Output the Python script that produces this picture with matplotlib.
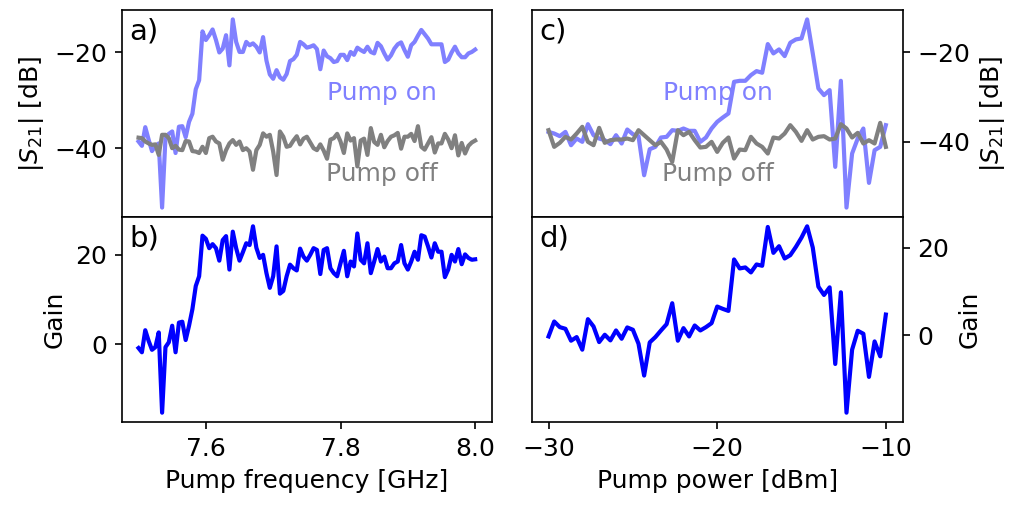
import numpy as np
import matplotlib
matplotlib.use("Agg")
import matplotlib.pyplot as plt

# Frequency sweep (GHz) and power sweep (dBm)
freq = np.linspace(7.5, 8.0, 101)
power = np.linspace(-30.0, -10.0, 61)

# |S21| vs pump frequency, pump on / off (dB)
s21_on_f = [
    -38.6, -39.5, -35.6, -38.2, -40.6, -39.5, -39.0, -52.4, -37.9, -37.0,
    -36.5, -41.0, -35.5, -35.4, -37.7, -34.5, -32.8, -27.7, -25.8, -15.6,
    -17.4, -16.4, -15.2, -17.4, -20.0, -19.2, -16.4, -22.7, -13.1, -17.8,
    -19.9, -19.9, -17.8, -18.5, -18.1, -18.8, -20.0, -16.8, -21.7, -24.6,
    -25.5, -23.7, -25.2, -25.7, -24.5, -21.8, -21.4, -20.5, -17.8, -18.3,
    -19.0, -18.8, -18.5, -19.3, -23.5, -19.6, -20.8, -21.2, -22.0, -21.8,
    -20.5, -20.5, -21.6, -19.9, -20.5, -19.0, -19.5, -19.9, -18.8, -19.9,
    -20.2, -18.0, -18.7, -20.2, -21.5, -20.6, -19.2, -18.3, -17.9, -19.5,
    -20.9, -18.5, -17.8, -16.5, -15.3, -16.2, -17.1, -18.3, -18.3, -18.3,
    -18.3, -22.0, -21.5, -20.0, -18.8, -20.2, -21.0, -21.0, -20.2, -19.9,
    -19.4,
]
s21_off_f = [
    -37.8, -37.9, -38.6, -39.0, -39.3, -39.2, -41.4, -37.2, -37.2, -37.9,
    -40.0, -39.5, -40.3, -40.4, -38.5, -38.6, -40.6, -40.7, -41.0, -39.7,
    -41.0, -37.9, -37.6, -38.6, -39.0, -42.4, -40.4, -39.0, -38.3, -39.3,
    -38.6, -40.4, -40.0, -40.7, -44.5, -40.4, -39.3, -36.9, -37.6, -37.2,
    -40.7, -45.6, -36.5, -37.6, -39.7, -39.5, -38.4, -37.5, -39.2, -38.0,
    -37.6, -38.8, -40.0, -40.4, -39.2, -40.5, -42.2, -38.2, -37.9, -37.0,
    -38.6, -41.0, -36.9, -38.4, -37.9, -43.8, -38.4, -38.0, -41.4, -35.8,
    -38.7, -39.3, -37.2, -39.8, -38.5, -37.6, -37.3, -36.8, -40.1, -37.6,
    -37.6, -37.0, -38.5, -35.4, -39.7, -40.3, -39.0, -37.7, -40.9, -39.0,
    -39.0, -37.0, -38.2, -40.0, -37.3, -41.5, -38.9, -41.1, -39.5, -38.8,
    -38.4,
]
gain_f = [
    -0.9, -1.85, 3.1, 0.7, -1.3, -0.7, 2.6, -15.4, -0.7, 0.4,
    4.1, -1.85, 4.8, 5.0, 0.9, 4.1, 7.8, 13.0, 15.2, 24.3,
    23.6, 21.5, 22.4, 21.5, 18.7, 23.3, 24.2, 16.7, 25.2, 21.5,
    18.7, 20.6, 22.6, 22.2, 26.4, 21.6, 19.3, 20.0, 15.9, 12.6,
    15.2, 21.9, 11.3, 11.9, 15.2, 17.8, 17.0, 16.5, 21.4, 19.6,
    18.7, 20.0, 21.5, 21.1, 15.7, 21.1, 21.5, 17.0, 15.9, 15.2,
    18.1, 20.9, 15.2, 18.5, 17.4, 24.8, 18.9, 18.1, 22.6, 15.9,
    18.5, 21.3, 18.5, 19.6, 17.0, 17.0, 18.1, 18.5, 22.2, 18.1,
    16.7, 18.5, 20.7, 18.9, 24.4, 24.1, 21.9, 19.4, 22.6, 20.7,
    20.7, 15.0, 16.7, 20.0, 18.5, 21.3, 17.9, 20.1, 19.3, 18.9,
    19.0,
]

# |S21| vs pump power, pump on / off (dB)
s21_on_p = [
    -37.76, -38.13, -38.72, -37.76, -40.74, -39.25, -39.99, -36.04, -38.50, -39.25,
    -39.62, -40.51, -38.50, -40.36, -37.23, -38.28, -38.72, -47.45, -41.63, -41.11,
    -39.02, -38.87, -37.38, -37.53, -37.01, -37.53, -37.53, -39.99, -39.02, -37.01,
    -35.52, -34.55, -33.65, -26.57, -26.35, -26.35, -25.08, -24.18, -24.55, -18.14,
    -20.23, -19.34, -20.83, -17.84, -17.10, -16.88, -12.63, -20.23, -28.06, -29.55,
    -28.43, -45.58, -26.35, -54.68, -42.60, -39.25, -37.01, -49.16, -41.85, -41.11,
    -36.26,
]
s21_off_p = [
    -37.38, -41.11, -40.21, -38.87, -39.47, -38.13, -36.63, -39.99, -40.74, -36.86,
    -40.21, -39.62, -39.47, -39.47, -39.25, -39.62, -37.38, -38.50, -39.62, -40.74,
    -39.99, -41.71, -44.47, -37.38, -38.50, -37.76, -39.62, -41.26, -41.11, -39.99,
    -42.23, -40.21, -39.02, -43.72, -41.71, -41.85, -38.87, -40.36, -41.11, -42.60,
    -39.02, -39.25, -38.13, -36.26, -37.76, -39.77, -37.38, -39.47, -38.87, -38.72,
    -39.47, -39.25, -36.04, -37.01, -39.02, -37.98, -40.36, -39.62, -40.36, -35.74,
    -41.11,
]
gain_p = [
    -0.22, 3.19, 1.90, 1.52, -1.20, -0.37, -3.25, 3.72, 2.05, -1.51,
    0.16, -1.13, 1.14, -0.75, 1.83, 1.30, -1.89, -9.16, -1.58, -0.37,
    1.14, 2.58, 7.36, -1.20, 1.67, -0.22, 2.28, 1.14, 1.90, 2.81,
    6.60, 6.07, 5.61, 17.36, 15.31, 15.54, 14.40, 16.22, 15.92, 24.78,
    18.87, 20.39, 17.58, 18.34, 20.23, 22.36, 24.93, 20.08, 11.14, 9.25,
    10.99, -6.51, 9.86, -17.64, -3.25, 1.07, 0.39, -9.46, -1.36, -4.77,
    4.77,
]

on_color = "#8080ff"
off_color = "#808080"
gain_color = "#0000ff"
lw = 2.0
fs = 12

plt.rcParams["font.size"] = fs

W, H = 1013, 505
fig = plt.figure(figsize=(W / 150, H / 150), dpi=150)

def frac(x0, y0, x1, y1):
    return [x0 / W, 1 - y1 / H, (x1 - x0) / W, (y1 - y0) / H]

ax_a = fig.add_axes(frac(121.7, 10, 492, 217))
ax_b = fig.add_axes(frac(121.7, 217, 492, 422))
ax_c = fig.add_axes(frac(531.7, 10, 902.7, 217))
ax_d = fig.add_axes(frac(531.7, 217, 902.7, 422))

# (a) transmission vs frequency
ax_a.plot(freq, s21_on_f, color=on_color, lw=lw)
ax_a.plot(freq, s21_off_f, color=off_color, lw=lw)
ax_a.set_yticks([-40, -20])
ax_a.set_ylabel(r"$|S_{21}|$ [dB]")
ax_a.tick_params(bottom=False, labelbottom=False)
ax_a.text(0.703, 0.6, "Pump on", color=on_color, transform=ax_a.transAxes,
          ha="center", va="center", zorder=1)
ax_a.text(0.703, 0.21, "Pump off", color=off_color, transform=ax_a.transAxes,
          ha="center", va="center", zorder=1)

# (b) gain vs frequency
ax_b.plot(freq, gain_f, color=gain_color, lw=lw)
ax_b.set_yticks([0, 20])
ax_b.set_xticks([7.6, 7.8, 8.0])
ax_b.set_xticklabels(["7.6", "7.8", "8.0"])
ax_b.set_ylabel("Gain")
ax_b.set_xlabel("Pump frequency [GHz]")
ax_a.set_xlim(ax_b.get_xlim())

# (c) transmission vs power
ax_c.plot(power, s21_on_p, color=on_color, lw=lw)
ax_c.plot(power, s21_off_p, color=off_color, lw=lw)
ax_c.set_yticks([-40, -20])
ax_c.yaxis.tick_right()
ax_c.yaxis.set_label_position("right")
ax_c.set_ylabel(r"$|S_{21}|$ [dB]")
ax_c.tick_params(bottom=False, labelbottom=False)
ax_c.text(0.501, 0.6, "Pump on", color=on_color, transform=ax_c.transAxes,
          ha="center", va="center", zorder=1)
ax_c.text(0.502, 0.21, "Pump off", color=off_color, transform=ax_c.transAxes,
          ha="center", va="center", zorder=1)

# (d) gain vs power
ax_d.plot(power, gain_p, color=gain_color, lw=lw)
ax_d.set_yticks([0, 20])
ax_d.set_xticks([-30, -20, -10])
ax_d.yaxis.tick_right()
ax_d.yaxis.set_label_position("right")
ax_d.set_ylabel("Gain")
ax_d.set_xlabel("Pump power [dBm]")
ax_c.set_xlim(ax_d.get_xlim())

for ax, lab in [(ax_a, "a)"), (ax_b, "b)"), (ax_c, "c)"), (ax_d, "d)")]:
    ax.text(0.02, 0.965, lab, transform=ax.transAxes, ha="left", va="top",
            fontsize=fs + 2)

fig.savefig("out.png", dpi=150)
